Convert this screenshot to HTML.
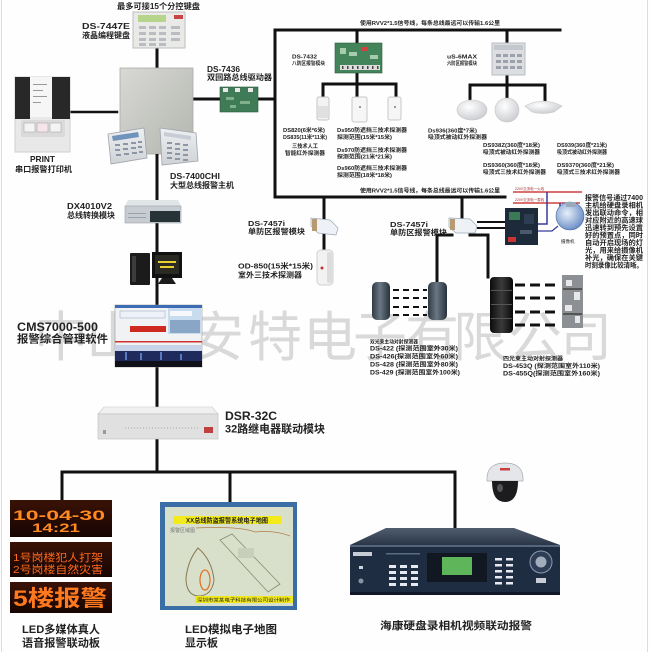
<!DOCTYPE html>
<html><head><meta charset="utf-8">
<style>
html,body{margin:0;padding:0;background:#fff;}
svg{display:block;}
text{font-family:"Liberation Sans","Noto Sans CJK SC",sans-serif;fill:#222;}
.b{font-weight:700;}
.wm{fill:#d9d9d9;font-family:"Noto Sans CJK SC",sans-serif;}
</style></head><body>
<svg width="650" height="652" viewBox="0 0 650 652" xmlns="http://www.w3.org/2000/svg">
<defs>
 <linearGradient id="gbox" x1="0" y1="0" x2="1" y2="1"><stop offset="0" stop-color="#d8d9d5"/><stop offset="1" stop-color="#b3b5af"/></linearGradient>
 <linearGradient id="gkey" x1="0" y1="0" x2="0" y2="1"><stop offset="0" stop-color="#eef0f2"/><stop offset="1" stop-color="#cfd2d6"/></linearGradient>
 <linearGradient id="gbeam" x1="0" y1="0" x2="1" y2="0"><stop offset="0" stop-color="#2f3a44"/><stop offset=".45" stop-color="#6a7884"/><stop offset="1" stop-color="#27313a"/></linearGradient>
 <linearGradient id="gtower" x1="0" y1="0" x2="1" y2="0"><stop offset="0" stop-color="#0c0c0c"/><stop offset=".5" stop-color="#3a3a3a"/><stop offset="1" stop-color="#0a0a0a"/></linearGradient>
 <linearGradient id="gled" x1="0" y1="0" x2="0" y2="1"><stop offset="0" stop-color="#3a1206"/><stop offset="1" stop-color="#160502"/></linearGradient>
 <linearGradient id="gdvrtop" x1="0" y1="0" x2="0" y2="1"><stop offset="0" stop-color="#505d6e"/><stop offset="1" stop-color="#2b3748"/></linearGradient>
 <radialGradient id="gdome" cx=".4" cy=".35" r=".7"><stop offset="0" stop-color="#ffffff"/><stop offset="1" stop-color="#c9cbcf"/></radialGradient>
 <radialGradient id="gspd" cx=".4" cy=".4" r=".7"><stop offset="0" stop-color="#e8f0fa"/><stop offset="1" stop-color="#5c82c0"/></radialGradient>
</defs>
<rect width="650" height="652" fill="#fefefe"/>
<line x1="1.5" y1="0" x2="1.5" y2="652" stroke="#dcdcdc"/>
<line x1="647.5" y1="0" x2="647.5" y2="652" stroke="#dcdcdc"/>

<!-- watermark -->
<g font-size="54">
 <text class="wm" x="34" y="356">中</text>
 <text class="wm" x="86" y="356">山</text>
 <text class="wm" x="138" y="356">市</text>
 <text class="wm" x="190" y="356">安</text>
 <text class="wm" x="248" y="356">特</text>
 <text class="wm" x="303" y="356">电</text>
 <text class="wm" x="353" y="356">子</text>
 <text class="wm" x="405" y="356">有</text>
 <text class="wm" x="453" y="356">限</text>
 <text class="wm" x="508" y="356">公</text>
 <text class="wm" x="558" y="356">司</text>
</g>

<!-- connection lines -->
<g stroke="#111" stroke-width="3" fill="none" stroke-linecap="square">
 <line x1="157" y1="48" x2="157" y2="68"/>
 <line x1="71" y1="112" x2="117" y2="112" stroke-width="2.5"/>
 <line x1="193" y1="99" x2="220" y2="99"/>
 <line x1="258" y1="99" x2="275" y2="99"/>
 <line x1="275" y1="30" x2="275" y2="197"/>
 <line x1="275" y1="30" x2="560" y2="30"/>
 <line x1="357" y1="30" x2="357" y2="43"/>
 <line x1="357" y1="73" x2="357" y2="97"/>
 <line x1="323" y1="84" x2="396" y2="84"/>
 <line x1="323" y1="84" x2="323" y2="97"/>
 <line x1="396" y1="84" x2="396" y2="97"/>
 <line x1="507" y1="30" x2="507" y2="43"/>
 <line x1="507" y1="75" x2="507" y2="99"/>
 <line x1="470" y1="85" x2="545" y2="85"/>
 <line x1="470" y1="85" x2="470" y2="100"/>
 <line x1="545" y1="85" x2="545" y2="100"/>
 <line x1="275" y1="197" x2="505" y2="197"/>
 <line x1="324" y1="197" x2="324" y2="252"/>
 <line x1="462" y1="197" x2="462" y2="220"/>
 <line x1="437" y1="235" x2="452" y2="235"/>
 <line x1="437" y1="235" x2="437" y2="282"/>
 <line x1="470" y1="235" x2="488" y2="235"/>
 <line x1="488" y1="235" x2="488" y2="277"/>
 <line x1="478" y1="222" x2="504" y2="222" stroke-width="2"/>
 <line x1="478" y1="228" x2="504" y2="228" stroke-width="2"/>
 <line x1="157" y1="150" x2="157" y2="472"/>
 <line x1="62" y1="472" x2="455" y2="472"/>
 <line x1="62" y1="472" x2="62" y2="500"/>
 <line x1="230" y1="472" x2="230" y2="502"/>
 <line x1="455" y1="472" x2="455" y2="528"/>
</g>

<!-- printer -->
<rect x="15" y="77" width="55" height="75" fill="#e8e8e8" stroke="#cfcfcf"/>
<rect x="15" y="77" width="15" height="42" fill="#282828"/>
<rect x="52" y="77" width="18" height="42" fill="#282828"/>
<rect x="30" y="77" width="22" height="40" fill="#f6f6f6"/>
<g fill="#9a9a9a"><rect x="33" y="84" width="14" height="1"/><rect x="33" y="90" width="10" height="1"/><rect x="33" y="96" width="14" height="1"/><rect x="33" y="102" width="8" height="1"/></g>
<rect x="21" y="120" width="44" height="17" rx="2" fill="#dadada"/>
<rect x="24" y="123" width="11" height="9" fill="#f4f4f4" stroke="#aaa" stroke-width=".6"/>
<rect x="37" y="123" width="11" height="9" fill="#f6e4ea" stroke="#aaa" stroke-width=".6"/>
<rect x="50" y="123" width="11" height="9" fill="#f4f4f4" stroke="#aaa" stroke-width=".6"/>

<!-- DS-7447E keypad -->
<rect x="133" y="12" width="52" height="36" fill="#e9e9e7" stroke="#bdbdbd"/>
<rect x="138" y="15" width="28" height="7" fill="#b6d48c"/>
<rect x="174" y="15" width="9" height="4" fill="#c94444"/>
<g fill="#b9bcc0">
 <rect x="139" y="26" width="7" height="3"/><rect x="149" y="26" width="7" height="3"/><rect x="159" y="26" width="7" height="3"/><rect x="171" y="26" width="9" height="3"/>
 <rect x="139" y="32" width="7" height="3"/><rect x="149" y="32" width="7" height="3"/><rect x="159" y="32" width="7" height="3"/><rect x="171" y="32" width="9" height="3"/>
 <rect x="139" y="38" width="7" height="3"/><rect x="149" y="38" width="7" height="3"/><rect x="159" y="38" width="7" height="3"/><rect x="171" y="38" width="9" height="3"/>
 <rect x="139" y="43" width="7" height="3"/><rect x="149" y="43" width="7" height="3"/><rect x="159" y="43" width="7" height="3"/>
</g>

<!-- control box -->
<rect x="120" y="68" width="73" height="86" fill="url(#gbox)" stroke="#a9aba6" stroke-width=".8"/>
<line x1="157" y1="154" x2="157" y2="170" stroke="#111" stroke-width="3"/>
<!-- front keypads -->
<polygon points="108,134 144,128 147,158 111,164" fill="url(#gkey)" stroke="#9ea3aa" stroke-width=".8"/>
<polygon points="112,136 138,132 139,137 113,141" fill="#6f93bb"/>
<g fill="#8c96a4">
 <rect x="115" y="144" width="5" height="2"/><rect x="123" y="143" width="5" height="2"/><rect x="131" y="142" width="5" height="2"/><rect x="138" y="141" width="4" height="2"/>
 <rect x="115" y="149" width="5" height="2"/><rect x="123" y="148" width="5" height="2"/><rect x="131" y="147" width="5" height="2"/><rect x="138" y="146" width="4" height="2"/>
 <rect x="116" y="154" width="5" height="2"/><rect x="124" y="153" width="5" height="2"/><rect x="132" y="152" width="5" height="2"/><rect x="139" y="151" width="4" height="2"/>
</g>
<polygon points="160,128 196,133 198,161 162,165" fill="url(#gkey)" stroke="#9ea3aa" stroke-width=".8"/>
<polygon points="164,132 191,136 191,140 164,136" fill="#c8ccd4"/>
<g fill="#8c96a4">
 <rect x="167" y="142" width="5" height="2"/><rect x="175" y="143" width="5" height="2"/><rect x="183" y="144" width="5" height="2"/>
 <rect x="167" y="147" width="5" height="2"/><rect x="175" y="148" width="5" height="2"/><rect x="183" y="149" width="5" height="2"/>
 <rect x="167" y="152" width="5" height="2"/><rect x="175" y="153" width="5" height="2"/><rect x="183" y="154" width="5" height="2"/>
 <rect x="167" y="157" width="5" height="2"/><rect x="175" y="158" width="5" height="2"/><rect x="183" y="159" width="5" height="2"/>
</g>

<!-- DS-7436 board -->
<rect x="220" y="87" width="38" height="25" fill="#3f7b56" stroke="#2d5a3e" stroke-width=".6"/>
<g fill="#e8e8e8"><rect x="223" y="88" width="5" height="4"/><rect x="235" y="88" width="5" height="4"/><rect x="248" y="88" width="5" height="4"/></g>
<g fill="#7fb08a"><rect x="226" y="97" width="8" height="3"/><rect x="240" y="101" width="10" height="3"/><rect x="230" y="105" width="6" height="3"/></g>

<!-- DS-7432 board -->
<rect x="335" y="43" width="47" height="30" fill="#44845a" stroke="#2d5a3e" stroke-width=".6"/>
<rect x="362" y="47" width="5" height="4" fill="#d24040"/>
<g fill="#a8cbb0"><rect x="340" y="48" width="6" height="6"/><rect x="349" y="52" width="8" height="4"/><rect x="370" y="55" width="8" height="4"/></g>
<rect x="340" y="65" width="40" height="5" fill="#dcdcdc"/>
<g fill="#444"><rect x="342" y="66" width="1.5" height="3"/><rect x="347" y="66" width="1.5" height="3"/><rect x="352" y="66" width="1.5" height="3"/><rect x="357" y="66" width="1.5" height="3"/><rect x="362" y="66" width="1.5" height="3"/><rect x="367" y="66" width="1.5" height="3"/><rect x="372" y="66" width="1.5" height="3"/><rect x="377" y="66" width="1.5" height="3"/></g>

<!-- PIR detectors -->
<rect x="317" y="97" width="12" height="23" rx="2" fill="#f3f3f3" stroke="#c4c4c4"/>
<rect x="318" y="106" width="10" height="12" fill="#dfe0e2"/>
<rect x="352" y="97" width="15" height="25" rx="2" fill="#f6f6f6" stroke="#c8c8c8"/>
<rect x="359" y="106" width="2" height="2" fill="#999"/>
<rect x="388" y="97" width="13" height="23" rx="2" fill="#f6f6f6" stroke="#c8c8c8"/>
<rect x="394" y="106" width="2" height="2" fill="#999"/>

<!-- US-6MAX -->
<rect x="492" y="43" width="33" height="32" fill="#dcdee2" stroke="#b9bcc2"/>
<rect x="494" y="45" width="29" height="5" fill="#c3c7ce"/>
<g fill="#9ba2ac">
 <rect x="496" y="54" width="5" height="3"/><rect x="503" y="54" width="5" height="3"/><rect x="510" y="54" width="5" height="3"/><rect x="517" y="54" width="5" height="3"/>
 <rect x="496" y="60" width="5" height="3"/><rect x="503" y="60" width="5" height="3"/><rect x="510" y="60" width="5" height="3"/><rect x="517" y="60" width="5" height="3"/>
 <rect x="496" y="66" width="5" height="3"/><rect x="503" y="66" width="5" height="3"/><rect x="510" y="66" width="5" height="3"/><rect x="517" y="66" width="5" height="3"/>
</g>

<!-- ceiling domes -->
<ellipse cx="472" cy="110" rx="15" ry="10" fill="url(#gdome)" stroke="#c6c6c6" stroke-width=".6"/>
<ellipse cx="507" cy="110" rx="12" ry="12" fill="url(#gdome)" stroke="#c6c6c6" stroke-width=".6"/>
<path d="M525,106 Q543,96 562,106 L554,112 Q543,115 532,112 Z" fill="url(#gdome)" stroke="#c6c6c6" stroke-width=".6"/>

<!-- DX4010V2 -->
<polygon points="128,200 178,200 181,206 125,206" fill="#e1e4e7"/>
<rect x="125" y="206" width="56" height="17" fill="#c7ccd2" stroke="#9aa0a8" stroke-width=".6"/>
<rect x="150" y="211" width="30" height="11" fill="#283338"/>
<g fill="#9aa3ac"><rect x="128" y="213" width="18" height="1"/><rect x="128" y="217" width="18" height="1"/></g>

<!-- computer -->
<rect x="130" y="253" width="20" height="32" rx="1" fill="#1b1b1b"/>
<rect x="132" y="256" width="4" height="26" fill="#3c3c3c"/>
<rect x="152" y="252" width="30" height="26" fill="#121212"/>
<rect x="155" y="255" width="24" height="19" fill="#2a2a22"/>
<g fill="#e6d030"><rect x="158" y="261" width="18" height="2"/><rect x="160" y="266" width="14" height="2"/></g>
<polygon points="162,278 172,278 176,284 158,284" fill="#1c1c1c"/>

<!-- software screen -->
<rect x="115" y="305" width="87" height="62" fill="#f1f2f3" stroke="#9a9a9a" stroke-width=".6"/>
<rect x="115" y="305" width="87" height="3" fill="#3c6cb4"/>
<rect x="120" y="311" width="45" height="7" fill="#eef2f8" stroke="#8aa2c0" stroke-width=".5"/>
<rect x="168" y="308" width="34" height="26" fill="#c9dbee"/>
<rect x="170" y="320" width="30" height="13" fill="#8aa6c6"/>
<rect x="170" y="311" width="22" height="5" fill="#f6f8fb"/>
<rect x="130" y="326" width="36" height="6" fill="#cf2a20"/>
<rect x="115" y="341" width="87" height="1.5" fill="#d03030"/>
<rect x="115" y="345" width="87" height="6" fill="#c5d2e8"/>
<rect x="115" y="351" width="87" height="10" fill="#1e2b5c"/>
<g fill="#5a7ac0"><rect x="125" y="352" width="2" height="8"/><rect x="140" y="353" width="2" height="7"/><rect x="160" y="352" width="2" height="8"/><rect x="180" y="354" width="2" height="6"/></g>
<rect x="115" y="361" width="87" height="6" fill="#101018"/>

<!-- DSR-32C -->
<polygon points="104,407 212,407 218,414 98,414" fill="#f0f0f0" stroke="#c8c8c8" stroke-width=".6"/>
<rect x="98" y="414" width="120" height="25" fill="#e0e0e0" stroke="#bdbdbd" stroke-width=".6"/>
<line x1="125" y1="428" x2="200" y2="428" stroke="#a8a8a8" stroke-width="1" stroke-dasharray="1 2"/>
<rect x="204" y="427" width="9" height="6" fill="#c04040"/>
<rect x="103" y="430" width="3" height="4" fill="#999"/>

<!-- DS-7457i modules + OD-850 -->
<polygon points="311,218 330,220 338,228 336,235 318,233 311,226" fill="#eef2f6" stroke="#9aa8b8" stroke-width=".7"/>
<rect x="312" y="219" width="5" height="12" fill="#b89a72"/>
<rect x="317" y="250" width="16" height="35" rx="4" fill="#f2f2f2" stroke="#cfcfcf"/>
<rect x="327" y="252" width="5" height="31" rx="2" fill="#dcdcdc"/>
<circle cx="322" cy="268" r="1.5" fill="#c83030"/>
<polygon points="449,218 470,219 477,226 475,233 456,233 449,227" fill="#eef2f6" stroke="#9aa8b8" stroke-width=".7"/>
<rect x="450" y="219" width="5" height="11" fill="#b89a72"/>

<!-- video board + speed dome -->
<line x1="513" y1="192" x2="582" y2="192" stroke="#d04040" stroke-width="1.6"/>
<line x1="513" y1="203" x2="580" y2="203" stroke="#d04040" stroke-width="1.6"/>
<text x="515" y="190" font-size="3.5" style="fill:#a03030">220V交流电一火线</text>
<text x="515" y="201" font-size="3.5" style="fill:#a03030">220V交流电一零线</text>
<polyline points="547,192 547,224 538,224" fill="none" stroke="#3a3a9a" stroke-width="1.5"/>
<polyline points="560,203 560,216" fill="none" stroke="#3a3a9a" stroke-width="1.5"/>
<polyline points="538,231 552,231 558,226" fill="none" stroke="#3a3a9a" stroke-width="1.2"/>
<rect x="505" y="208" width="33" height="37" fill="#1d2a3a"/>
<rect x="509" y="212" width="11" height="8" fill="#3a7a55"/>
<rect x="524" y="214" width="10" height="10" fill="#2e3e52"/>
<rect x="508" y="237" width="8" height="5" fill="#c33"/>
<rect x="520" y="230" width="12" height="4" fill="#4a5a6e"/>
<circle cx="570" cy="216" r="14" fill="url(#gspd)" stroke="#4a6aa0" stroke-width=".6"/>
<rect x="566" y="202" width="10" height="5" fill="#9aa8bc"/>
<text x="561" y="243" font-size="4.5">摄像机</text>

<!-- beam detectors -->
<rect x="372" y="282" width="18" height="38" rx="5" fill="url(#gbeam)"/>
<rect x="428" y="282" width="19" height="38" rx="5" fill="url(#gbeam)"/>
<g stroke="#111" stroke-width="2" stroke-dasharray="6 4">
 <line x1="393" y1="290" x2="427" y2="290"/><line x1="393" y1="298" x2="427" y2="298"/><line x1="393" y1="307" x2="427" y2="307"/><line x1="393" y1="315" x2="427" y2="315"/>
</g>
<rect x="490" y="277" width="23" height="56" rx="4" fill="url(#gtower)"/>
<g fill="#555"><rect x="491" y="290" width="21" height="1"/><rect x="491" y="304" width="21" height="1"/><rect x="491" y="318" width="21" height="1"/></g>
<rect x="562" y="275" width="21" height="53" fill="#8c8f94"/>
<g fill="#e8e8e8"><rect x="566" y="280" width="6" height="6"/><rect x="574" y="292" width="6" height="8"/><rect x="565" y="305" width="7" height="6"/><rect x="575" y="316" width="5" height="7"/></g>
<g fill="#555"><rect x="563" y="288" width="19" height="2"/><rect x="563" y="313" width="19" height="2"/></g>
<g stroke="#111" stroke-width="3" stroke-dasharray="10 5">
 <line x1="515" y1="285" x2="560" y2="285"/><line x1="515" y1="298" x2="560" y2="298"/><line x1="515" y1="312" x2="560" y2="312"/><line x1="515" y1="325" x2="560" y2="325"/>
</g>

<!-- LED panels -->
<rect x="10" y="500" width="102" height="37" fill="url(#gled)"/>
<rect x="10" y="542" width="102" height="35" fill="url(#gled)"/>
<rect x="10" y="582" width="102" height="31" fill="url(#gled)"/>
<g class="b" style="font-family:'Liberation Mono','Noto Sans CJK SC',monospace;">
 <text x="13" y="520" font-size="14" textLength="92" lengthAdjust="spacingAndGlyphs" style="fill:#ff8a22">10-04-30</text>
 <text x="32" y="532" font-size="12" textLength="48" lengthAdjust="spacingAndGlyphs" style="fill:#ff8a22">14:21</text>
</g>
<text x="13" y="561" font-size="10.5" textLength="90" lengthAdjust="spacingAndGlyphs" style="fill:#ff6a1c">1号岗楼犯人打架</text>
<text x="13" y="573" font-size="10.5" textLength="90" lengthAdjust="spacingAndGlyphs" style="fill:#ff6a1c">2号岗楼自然灾害</text>
<text x="13" y="606" font-size="22" class="b" textLength="94" lengthAdjust="spacingAndGlyphs" style="fill:#ff7a1e">5楼报警</text>

<!-- map board -->
<rect x="160" y="502" width="137" height="108" fill="#3c6ea6"/>
<rect x="165" y="507" width="128" height="99" fill="#d8dfcb"/>
<rect x="173" y="516" width="108" height="8" fill="#f3ea1c"/>
<text x="186" y="522.5" font-size="6.5" class="b" textLength="82" lengthAdjust="spacingAndGlyphs">XX总线防盗报警系统电子地图</text>
<text x="170" y="532" font-size="5" style="fill:#777">报警区域图</text>
<path d="M196,528 Q240,526 255,532 Q275,530 290,536" fill="none" stroke="#b0804a" stroke-width=".8"/>
<path d="M198,548 Q188,560 186,578 Q186,595 198,596 Q212,596 214,580 Q212,560 198,548 Z" fill="none" stroke="#8a7a50" stroke-width="1"/>
<ellipse cx="205" cy="580" rx="5" ry="10" fill="none" stroke="#e0701e" stroke-width="1.2"/>
<polygon points="220,540 232,534 280,584 268,592" fill="none" stroke="#8a8a70" stroke-width=".8"/>
<rect x="238" y="548" width="16" height="10" fill="#c7ceba"/>
<rect x="195" y="596" width="98" height="7" fill="#efe71c"/>
<text x="197" y="601.5" font-size="4.5" textLength="93" lengthAdjust="spacingAndGlyphs">深圳市某某电子科技有限公司设计制作</text>

<!-- dome camera -->
<path d="M487,481 Q486,463 505,463 Q524,463 523,481 Z" fill="#e4e6ea" stroke="#a8abb0" stroke-width=".7"/>
<rect x="500" y="468" width="10" height="2.5" fill="#c84040"/>
<path d="M492,481 Q492,502 505,502 Q518,502 518,481 Z" fill="#1c1c1e"/>
<ellipse cx="500" cy="488" rx="3" ry="4" fill="#555"/>

<!-- DVR -->
<polygon points="386,528 514,528 560,545 350,545" fill="url(#gdvrtop)"/>
<rect x="350" y="545" width="210" height="50" fill="#1f2d43"/>
<rect x="350" y="545" width="210" height="2" fill="#55657c"/>
<rect x="353" y="552" width="19" height="4" fill="#c8ccd4"/>
<rect x="359" y="566" width="4" height="3" fill="#cfd4dc"/>
<circle cx="361" cy="581" r="2.5" fill="#8a94a4"/>
<g fill="#5a6a80"><rect x="386" y="553" width="34" height="1.5"/></g>
<g fill="#e6eaf0">
 <rect x="389" y="565" width="7" height="3"/><rect x="400" y="565" width="7" height="3"/><rect x="411" y="565" width="7" height="3"/>
 <rect x="389" y="571" width="7" height="3"/><rect x="400" y="571" width="7" height="3"/><rect x="411" y="571" width="7" height="3"/>
 <rect x="389" y="577" width="7" height="3"/><rect x="400" y="577" width="7" height="3"/><rect x="411" y="577" width="7" height="3"/>
 <rect x="389" y="583" width="7" height="3"/><rect x="400" y="583" width="7" height="3"/><rect x="411" y="583" width="7" height="3"/>
 <rect x="495" y="558" width="7" height="2.5"/><rect x="506" y="558" width="7" height="2.5"/>
 <rect x="495" y="564" width="7" height="2.5"/><rect x="506" y="564" width="7" height="2.5"/>
 <rect x="495" y="570" width="7" height="2.5"/><rect x="506" y="570" width="7" height="2.5"/>
 <rect x="495" y="576" width="7" height="2.5"/><rect x="506" y="576" width="7" height="2.5"/>
 <rect x="495" y="582" width="7" height="2.5"/><rect x="506" y="582" width="7" height="2.5"/>
</g>
<rect x="427" y="553" width="60" height="29" fill="#121822"/>
<rect x="442" y="557" width="30" height="18" fill="#5fb65a"/>
<circle cx="541" cy="562" r="11" fill="#2e3d55" stroke="#8d9ab0" stroke-width="1"/>
<circle cx="541" cy="562" r="5.5" fill="#a3acbb"/>
<rect x="536" y="578" width="10" height="5" fill="#c8ccd4"/>
<rect x="350" y="592" width="210" height="3" fill="#10182a"/>

<!-- labels -->
<g class="b">
 <text x="117" y="9" font-size="8" textLength="83" lengthAdjust="spacingAndGlyphs">最多可接15个分控键盘</text>
 <text x="82" y="29" font-size="8.5" textLength="48" lengthAdjust="spacingAndGlyphs">DS-7447E</text>
 <text x="82" y="38" font-size="8" textLength="48" lengthAdjust="spacingAndGlyphs">液晶编程键盘</text>
 <text x="207" y="72" font-size="8.5" textLength="33" lengthAdjust="spacingAndGlyphs">DS-7436</text>
 <text x="207" y="80" font-size="8" textLength="65" lengthAdjust="spacingAndGlyphs">双回路总线驱动器</text>
 <text x="30" y="162" font-size="8.5" textLength="25" lengthAdjust="spacingAndGlyphs">PRINT</text>
 <text x="15" y="172" font-size="8" textLength="57" lengthAdjust="spacingAndGlyphs">串口报警打印机</text>
 <text x="170" y="179" font-size="8.5" textLength="50" lengthAdjust="spacingAndGlyphs">DS-7400CHI</text>
 <text x="170" y="188" font-size="8" textLength="64" lengthAdjust="spacingAndGlyphs">大型总线报警主机</text>
 <text x="67" y="209" font-size="8.5" textLength="45" lengthAdjust="spacingAndGlyphs">DX4010V2</text>
 <text x="67" y="218" font-size="8" textLength="48" lengthAdjust="spacingAndGlyphs">总线转换模块</text>

 <text x="360" y="25" font-size="5.5" textLength="140" lengthAdjust="spacingAndGlyphs">使用RVV2*1.5信号线，每条总线最远可以传输1.6公里</text>
 <text x="360" y="192.5" font-size="5.5" textLength="140" lengthAdjust="spacingAndGlyphs">使用RVV2*1.5信号线，每条总线最远可以传输1.6公里</text>
 <text x="292" y="58.5" font-size="5.5" textLength="25" lengthAdjust="spacingAndGlyphs">DS-7432</text>
 <text x="292" y="65" font-size="5" textLength="33" lengthAdjust="spacingAndGlyphs">八防区报警模块</text>
 <text x="447" y="58.5" font-size="5.5" textLength="30" lengthAdjust="spacingAndGlyphs">uS-6MAX</text>
 <text x="447" y="65" font-size="5" textLength="30" lengthAdjust="spacingAndGlyphs">六防区报警模块</text>

 <text x="283" y="132" font-size="5.5" textLength="42" lengthAdjust="spacingAndGlyphs">DS820(6米*6米)</text>
 <text x="283" y="139" font-size="5.5" textLength="44" lengthAdjust="spacingAndGlyphs">DS835(11米*11米)</text>
 <text x="292" y="148" font-size="5.5" textLength="26" lengthAdjust="spacingAndGlyphs">三技术人工</text>
 <text x="285" y="155" font-size="5.5" textLength="40" lengthAdjust="spacingAndGlyphs">智能红外探测器</text>
 <text x="337" y="132" font-size="5.5" textLength="70" lengthAdjust="spacingAndGlyphs">Ds950防遮挡三技术探测器</text>
 <text x="337" y="139" font-size="5.5" textLength="55" lengthAdjust="spacingAndGlyphs">探测范围(15米*15米)</text>
 <text x="337" y="152" font-size="5.5" textLength="70" lengthAdjust="spacingAndGlyphs">Ds970防遮挡三技术探测器</text>
 <text x="337" y="158.5" font-size="5.5" textLength="55" lengthAdjust="spacingAndGlyphs">探测范围(21米*21米)</text>
 <text x="337" y="170" font-size="5.5" textLength="70" lengthAdjust="spacingAndGlyphs">Ds960防遮挡三技术探测器</text>
 <text x="337" y="177" font-size="5.5" textLength="55" lengthAdjust="spacingAndGlyphs">探测范围(18米*18米)</text>
 <text x="428" y="132.5" font-size="5.5" textLength="49" lengthAdjust="spacingAndGlyphs">Ds936(360度*7米)</text>
 <text x="428" y="139" font-size="5.5" textLength="59" lengthAdjust="spacingAndGlyphs">吸顶式被动红外探测器</text>
 <text x="483" y="147" font-size="5.5" textLength="57" lengthAdjust="spacingAndGlyphs">DS938Z(360度*18米)</text>
 <text x="483" y="154" font-size="5.5" textLength="57" lengthAdjust="spacingAndGlyphs">吸顶式被动红外探测器</text>
 <text x="483" y="167" font-size="5.5" textLength="57" lengthAdjust="spacingAndGlyphs">DS9360(360度*18米)</text>
 <text x="483" y="174" font-size="5.5" textLength="63" lengthAdjust="spacingAndGlyphs">吸顶式三技术红外探测器</text>
 <text x="557" y="147" font-size="5.5" textLength="50" lengthAdjust="spacingAndGlyphs">DS939(360度*21米)</text>
 <text x="557" y="154" font-size="5.5" textLength="50" lengthAdjust="spacingAndGlyphs">吸顶式被动红外探测器</text>
 <text x="557" y="167" font-size="5.5" textLength="57" lengthAdjust="spacingAndGlyphs">DS9370(360度*21米)</text>
 <text x="557" y="174" font-size="5.5" textLength="63" lengthAdjust="spacingAndGlyphs">吸顶式三技术红外探测器</text>

 <text x="248" y="226" font-size="7.5" textLength="37" lengthAdjust="spacingAndGlyphs">DS-7457i</text>
 <text x="248" y="234" font-size="7.5" textLength="57" lengthAdjust="spacingAndGlyphs">单防区报警模块</text>
 <text x="238" y="268.5" font-size="7.5" textLength="75" lengthAdjust="spacingAndGlyphs">OD-850(15米*15米)</text>
 <text x="238" y="277.5" font-size="7.5" textLength="64" lengthAdjust="spacingAndGlyphs">室外三技术探测器</text>
 <text x="390" y="227" font-size="7.5" textLength="38" lengthAdjust="spacingAndGlyphs">DS-7457i</text>
 <text x="390" y="235" font-size="7.5" textLength="57" lengthAdjust="spacingAndGlyphs">单防区报警模块</text>

 <g font-size="7">
  <text x="585" y="200" textLength="58" lengthAdjust="spacingAndGlyphs">报警信号通过7400</text>
  <text x="585" y="207.5" textLength="58" lengthAdjust="spacingAndGlyphs">主机给硬盘录相机</text>
  <text x="585" y="215" textLength="58" lengthAdjust="spacingAndGlyphs">发出联动命令，相</text>
  <text x="585" y="222.5" textLength="58" lengthAdjust="spacingAndGlyphs">对应附近的高速球</text>
  <text x="585" y="230" textLength="58" lengthAdjust="spacingAndGlyphs">迅速转到预先设置</text>
  <text x="585" y="237.5" textLength="58" lengthAdjust="spacingAndGlyphs">好的预置点，同时</text>
  <text x="585" y="245" textLength="58" lengthAdjust="spacingAndGlyphs">自动开启现场的灯</text>
  <text x="585" y="252.5" textLength="58" lengthAdjust="spacingAndGlyphs">光，用来给摄像机</text>
  <text x="585" y="260" textLength="58" lengthAdjust="spacingAndGlyphs">补光，确保在关键</text>
  <text x="585" y="267.5" textLength="58" lengthAdjust="spacingAndGlyphs">时刻录像比较清晰。</text>
 </g>

 <text x="370" y="343.5" font-size="5" textLength="48" lengthAdjust="spacingAndGlyphs">双光束主动对射探测器</text>
 <text x="370" y="350.5" font-size="6" textLength="88" lengthAdjust="spacingAndGlyphs">DS-422 (探测范围室外30米)</text>
 <text x="370" y="358.5" font-size="6" textLength="88" lengthAdjust="spacingAndGlyphs">DS-426(探测范围室外60米)</text>
 <text x="370" y="366.5" font-size="6" textLength="88" lengthAdjust="spacingAndGlyphs">DS-428 (探测范围室外80米)</text>
 <text x="370" y="374.5" font-size="6" textLength="90" lengthAdjust="spacingAndGlyphs">DS-429 (探测范围室外100米)</text>
 <text x="503" y="360.5" font-size="5.5" textLength="60" lengthAdjust="spacingAndGlyphs">四光束主动对射探测器</text>
 <text x="503" y="368" font-size="6" textLength="97" lengthAdjust="spacingAndGlyphs">DS-453Q (探测范围室外110米)</text>
 <text x="503" y="375.5" font-size="6" textLength="97" lengthAdjust="spacingAndGlyphs">DS-455Q(探测范围室外160米)</text>

 <text x="17" y="331" font-size="12" textLength="81" lengthAdjust="spacingAndGlyphs">CMS7000-500</text>
 <text x="17" y="342.5" font-size="11" textLength="91" lengthAdjust="spacingAndGlyphs">报警综合管理软件</text>
 <text x="225" y="420" font-size="12" textLength="52" lengthAdjust="spacingAndGlyphs">DSR-32C</text>
 <text x="225" y="432.5" font-size="11" textLength="100" lengthAdjust="spacingAndGlyphs">32路继电器联动模块</text>
 <text x="22" y="633" font-size="11" textLength="78" lengthAdjust="spacingAndGlyphs">LED多媒体真人</text>
 <text x="22" y="646.5" font-size="11" textLength="78" lengthAdjust="spacingAndGlyphs">语音报警联动板</text>
 <text x="185" y="633" font-size="11" textLength="92" lengthAdjust="spacingAndGlyphs">LED模拟电子地图</text>
 <text x="185" y="646.5" font-size="11" textLength="33" lengthAdjust="spacingAndGlyphs">显示板</text>
 <text x="380" y="629" font-size="10.5" textLength="152" lengthAdjust="spacingAndGlyphs">海康硬盘录相机视频联动报警</text>
</g>
</svg>
</body></html>
